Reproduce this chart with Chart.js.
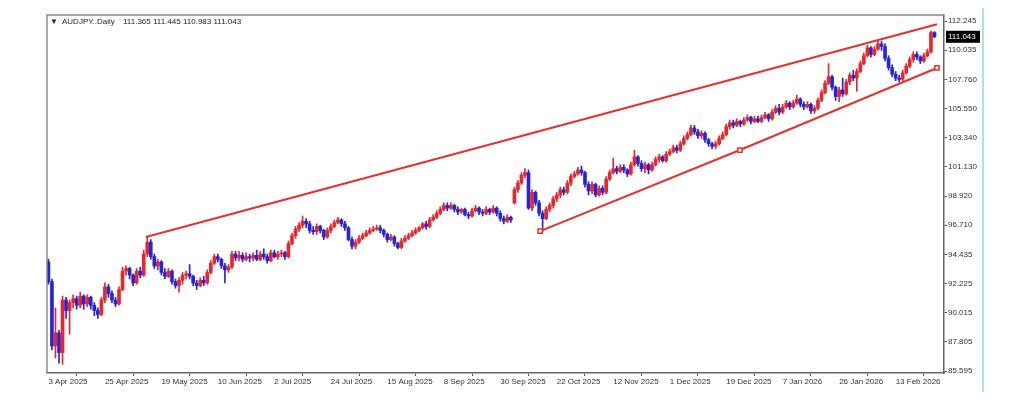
<!DOCTYPE html>
<html>
<head>
<meta charset="utf-8">
<title>AUDJPY Daily</title>
<script src="https://cdn.jsdelivr.net/npm/chart.js@4.4.1/dist/chart.umd.min.js"></script>
<style>
    html, body { margin: 0; padding: 0; background: #fff; }
    #wrap { width: 1024px; height: 402px; }
</style>
</head>
<body>
<div id="wrap"><canvas id="chart" width="1024" height="402"></canvas></div>
<script>
// Daily bars, oldest first (3 Apr 2025 ... late Feb 2026)
const opens = [
    93.9, 92.4, 87.5, 88.5, 87.0, 91.0, 90.2, 90.8, 91.1, 90.6,
    91.3, 90.7, 91.2, 90.6, 90.2, 89.9, 91.0, 92.0, 91.5, 91.0,
    90.7, 91.8, 93.2, 93.4, 92.9, 92.3, 93.2, 92.9, 94.5, 95.4,
    94.3, 93.6, 93.9, 93.1, 92.8, 93.2, 92.4, 92.1, 92.5, 92.9,
    93.0, 92.8, 92.3, 92.1, 92.5, 92.3, 93.1, 93.8, 94.3, 94.1,
    93.6, 93.3, 93.5, 94.5, 94.2, 94.4, 94.1, 94.3, 94.2, 94.4,
    94.1, 94.5, 94.3, 94.0, 94.6, 94.3, 94.5, 94.6, 94.3, 95.3,
    95.9, 96.4, 96.7, 97.0, 96.8, 96.3, 96.2, 96.6, 96.3, 95.8,
    96.3, 96.6, 96.9, 97.1, 96.8, 96.5, 95.6, 95.1, 95.4, 95.7,
    95.9, 96.1, 96.3, 96.4, 96.5, 96.3, 96.0, 95.6, 95.8, 95.3,
    95.0, 95.5, 95.7, 95.9, 96.1, 96.3, 96.5, 96.8, 96.6, 97.1,
    97.3, 97.6, 97.9, 98.2, 98.0, 98.2, 97.9, 97.7, 97.9, 97.5,
    97.4, 97.8, 98.0, 97.7, 97.6, 97.9, 97.7, 98.0, 97.6, 97.2,
    97.0, 97.3, 98.4, 99.4, 99.9, 100.5, 100.7, 98.0, 99.2, 98.4,
    97.6, 97.2, 97.9, 98.2, 98.7, 99.0, 99.4, 99.2, 99.9, 100.4,
    100.6, 100.9, 100.7, 99.8, 99.3, 99.8, 99.0, 99.5, 99.2, 100.2,
    100.7, 101.0, 100.8, 101.1, 100.9, 100.6, 101.3, 101.9, 101.4, 101.0,
    101.3, 100.9, 101.3, 101.7, 101.9, 101.6, 102.1, 102.3, 102.6, 102.4,
    102.9, 103.3, 103.6, 104.1, 103.8, 103.5, 103.7, 103.2, 102.9, 102.7,
    102.9, 103.3, 103.6, 104.2, 104.5, 104.3, 104.6, 104.4, 104.7, 104.9,
    104.6, 104.8, 104.6, 104.9, 105.1, 104.8, 105.3, 105.6, 105.3, 105.7,
    106.0, 105.7, 106.0, 106.3, 105.9, 105.7, 105.9, 105.4, 105.6, 106.2,
    106.8, 107.5, 108.0, 107.2, 106.5, 107.0, 106.7, 107.6, 108.1, 107.9,
    108.4, 109.0, 109.6, 110.2, 109.7, 110.1, 110.5, 110.3, 109.4, 108.7,
    108.2, 107.9, 107.8, 108.3, 108.8, 109.3, 109.7, 109.5, 109.2, 109.6,
    109.9, 111.365
];
const highs = [
    94.1, 92.6, 90.4, 88.7, 91.3, 91.2, 91.0, 91.4, 91.3, 91.6,
    91.4, 91.4, 91.3, 90.8, 90.4, 91.2, 92.3, 92.2, 91.7, 91.2,
    92.0, 93.5, 93.6, 93.5, 93.0, 93.4, 93.5, 94.8, 95.8, 95.6,
    94.5, 94.1, 94.0, 93.4, 93.4, 93.3, 92.6, 92.7, 93.1, 93.2,
    93.7, 92.9, 92.5, 92.7, 92.8, 93.3, 94.0, 94.5, 94.5, 94.2,
    93.8, 93.7, 94.7, 94.7, 94.7, 94.6, 94.6, 94.5, 94.6, 94.8,
    94.7, 94.9, 94.5, 94.8, 94.8, 94.7, 94.8, 94.7, 95.5, 96.1,
    96.6, 96.9, 97.4, 97.2, 97.0, 96.6, 96.8, 96.7, 96.4, 96.5,
    96.8, 97.1, 97.3, 97.2, 97.0, 96.6, 95.8, 95.6, 95.9, 96.1,
    96.3, 96.5, 96.6, 96.7, 96.7, 96.4, 96.1, 96.0, 95.9, 95.4,
    95.7, 95.9, 96.1, 96.3, 96.5, 96.6, 96.9, 97.0, 97.3, 97.5,
    97.8, 98.1, 98.4, 98.4, 98.4, 98.3, 98.1, 98.0, 98.0, 97.7,
    98.0, 98.2, 98.1, 97.9, 98.1, 98.0, 98.2, 98.1, 97.8, 97.4,
    97.5, 97.4, 99.6, 100.1, 100.7, 101.0, 100.9, 99.4, 99.3, 98.6,
    97.8, 98.1, 98.4, 98.9, 99.2, 99.6, 99.6, 100.1, 100.6, 100.8,
    101.1, 101.2, 100.8, 100.0, 100.0, 99.9, 99.7, 99.7, 100.4, 100.9,
    101.8, 101.2, 101.3, 101.3, 101.0, 101.5, 102.4, 102.0, 101.6, 101.5,
    101.4, 101.5, 101.9, 102.1, 102.0, 102.3, 102.5, 102.8, 102.8, 103.1,
    103.5, 103.8, 104.3, 104.3, 104.0, 103.9, 103.8, 103.3, 103.0, 103.1,
    103.5, 103.8, 104.4, 104.7, 104.7, 104.8, 104.7, 104.9, 105.1, 105.0,
    105.0, 105.0, 105.1, 105.3, 105.2, 105.5, 105.8, 105.9, 105.9, 106.2,
    106.1, 106.2, 106.6, 106.4, 106.1, 106.1, 106.0, 105.8, 106.4, 107.0,
    107.7, 109.0, 108.1, 107.3, 107.2, 107.9, 107.8, 108.3, 108.5, 108.6,
    109.2, 109.8, 110.4, 110.3, 110.3, 110.7, 110.7, 110.5, 109.6, 108.9,
    108.4, 108.1, 108.5, 109.0, 109.5, 109.9, 109.9, 109.6, 109.8, 110.1,
    111.5, 111.445
];
const lows = [
    92.2, 87.2, 86.6, 86.2, 86.1, 89.6, 88.4, 90.4, 90.3, 90.4,
    90.3, 90.5, 90.3, 89.8, 89.6, 89.8, 90.8, 91.2, 90.8, 90.5,
    90.6, 91.7, 92.9, 92.6, 92.1, 92.2, 92.7, 92.8, 94.3, 94.1,
    93.4, 93.3, 92.9, 92.6, 92.7, 92.2, 91.9, 91.6, 92.2, 92.6,
    92.6, 92.1, 91.8, 92.0, 92.1, 92.2, 93.0, 93.7, 93.9, 93.4,
    92.3, 93.1, 93.4, 94.0, 94.0, 93.9, 94.0, 93.9, 94.0, 94.0,
    94.0, 94.1, 93.8, 93.9, 94.2, 94.1, 94.3, 94.1, 94.2, 95.2,
    95.7, 96.2, 96.5, 96.5, 96.1, 96.0, 96.0, 96.1, 95.6, 95.7,
    96.1, 96.5, 96.8, 96.6, 96.3, 95.5, 94.9, 94.9, 95.3, 95.6,
    95.8, 96.0, 96.2, 96.3, 96.1, 95.8, 95.4, 95.5, 95.1, 94.9,
    94.9, 95.4, 95.6, 95.8, 96.0, 96.2, 96.4, 96.4, 96.5, 97.0,
    97.2, 97.5, 97.8, 97.8, 97.9, 97.7, 97.5, 97.6, 97.4, 97.2,
    97.3, 97.7, 97.5, 97.4, 97.5, 97.5, 97.6, 97.4, 97.0, 96.8,
    96.9, 96.9, 98.3, 99.2, 99.8, 100.3, 97.9, 97.8, 98.2, 97.4,
    96.2, 97.1, 97.7, 98.0, 98.5, 98.8, 99.0, 99.1, 99.7, 100.3,
    100.5, 100.5, 99.6, 99.0, 99.1, 98.85, 98.9, 99.0, 99.1, 100.1,
    100.6, 100.6, 100.7, 100.7, 100.4, 100.5, 101.2, 101.2, 100.8, 100.7,
    100.6, 100.8, 101.2, 101.5, 101.5, 101.5, 102.0, 102.2, 102.2, 102.3,
    102.8, 103.2, 103.5, 103.6, 103.3, 103.3, 103.0, 102.7, 102.5, 102.5,
    102.8, 103.2, 103.5, 104.0, 104.1, 104.2, 104.2, 104.3, 104.6, 104.4,
    104.5, 104.5, 104.5, 104.8, 104.6, 104.7, 105.2, 105.1, 105.2, 105.6,
    105.5, 105.6, 105.9, 105.7, 105.5, 105.6, 105.2, 105.2, 105.5, 106.1,
    106.7, 107.4, 107.0, 106.2, 106.1, 106.5, 106.6, 107.4, 107.7, 106.9,
    108.3, 108.9, 109.5, 109.5, 109.6, 110.0, 110.0, 109.2, 108.5, 108.0,
    107.7, 107.6, 107.7, 108.2, 108.7, 109.1, 109.3, 109.0, 109.1, 109.5,
    109.8, 110.983
];
const closes = [
    92.4, 87.5, 88.5, 87.0, 91.0, 90.2, 90.8, 91.1, 90.6, 91.3,
    90.7, 91.2, 90.6, 90.2, 89.9, 91.0, 92.0, 91.5, 91.0, 90.7,
    91.8, 93.2, 93.4, 92.9, 92.3, 93.2, 92.9, 94.5, 95.4, 94.3,
    93.6, 93.9, 93.1, 92.8, 93.2, 92.4, 92.1, 92.5, 92.9, 93.0,
    92.8, 92.3, 92.1, 92.5, 92.3, 93.1, 93.8, 94.3, 94.1, 93.6,
    93.3, 93.5, 94.5, 94.2, 94.4, 94.1, 94.3, 94.2, 94.4, 94.1,
    94.5, 94.3, 94.0, 94.6, 94.3, 94.5, 94.6, 94.3, 95.3, 95.9,
    96.4, 96.7, 97.0, 96.8, 96.3, 96.2, 96.6, 96.3, 95.8, 96.3,
    96.6, 96.9, 97.1, 96.8, 96.5, 95.6, 95.1, 95.4, 95.7, 95.9,
    96.1, 96.3, 96.4, 96.5, 96.3, 96.0, 95.6, 95.8, 95.3, 95.0,
    95.5, 95.7, 95.9, 96.1, 96.3, 96.5, 96.8, 96.6, 97.1, 97.3,
    97.6, 97.9, 98.2, 98.0, 98.2, 97.9, 97.7, 97.9, 97.5, 97.4,
    97.8, 98.0, 97.7, 97.6, 97.9, 97.7, 98.0, 97.6, 97.2, 97.0,
    97.3, 97.1, 99.4, 99.9, 100.5, 100.7, 98.0, 99.2, 98.4, 97.6,
    97.2, 97.9, 98.2, 98.7, 99.0, 99.4, 99.2, 99.9, 100.4, 100.6,
    100.9, 100.7, 99.8, 99.3, 99.8, 99.0, 99.5, 99.2, 100.2, 100.7,
    101.0, 100.8, 101.1, 100.9, 100.6, 101.3, 101.9, 101.4, 101.0, 101.3,
    100.9, 101.3, 101.7, 101.9, 101.6, 102.1, 102.3, 102.6, 102.4, 102.9,
    103.3, 103.6, 104.1, 103.8, 103.5, 103.7, 103.2, 102.9, 102.7, 102.9,
    103.3, 103.6, 104.2, 104.5, 104.3, 104.6, 104.4, 104.7, 104.9, 104.6,
    104.8, 104.6, 104.9, 105.1, 104.8, 105.3, 105.6, 105.3, 105.7, 106.0,
    105.7, 106.0, 106.3, 105.9, 105.7, 105.9, 105.4, 105.6, 106.2, 106.8,
    107.5, 108.0, 107.2, 106.5, 107.0, 106.7, 107.6, 108.1, 107.9, 108.4,
    109.0, 109.6, 110.2, 109.7, 110.1, 110.5, 110.3, 109.4, 108.7, 108.2,
    107.9, 107.8, 108.3, 108.8, 109.3, 109.7, 109.5, 109.2, 109.6, 109.9,
    111.365, 111.043
];

// one date label every 16 bars
const dateLabels = [
    '3 Apr 2025', '25 Apr 2025', '19 May 2025', '10 Jun 2025', '2 Jul 2025',
    '24 Jul 2025', '15 Aug 2025', '8 Sep 2025', '30 Sep 2025', '22 Oct 2025',
    '12 Nov 2025', '1 Dec 2025', '19 Dec 2025', '7 Jan 2026', '26 Jan 2026',
    '13 Feb 2026'
];
const labelStep = 16;

const priceTicks = [
    85.595, 87.805, 90.015, 92.225, 94.435, 96.710, 98.920,
    101.130, 103.340, 105.550, 107.760, 110.035, 112.245
];

// trend line anchors: [bar index, price]
const upperTrend = [[27.6, 95.8], [251.7, 112.0]];
const lowerTrend = [[139.3, 96.25], [195.9, 102.42], [251.7, 108.67]];

const UP = '#e8262b';
const DOWN = '#2424d8';
const LINE = '#e8302c';
const FONT = "'Liberation Sans', Arial, sans-serif";

Chart.defaults.font.family = FONT;
Chart.defaults.font.size = 8;
Chart.defaults.color = '#333';

const barColors = closes.map((c, i) => c >= opens[i] ? UP : DOWN);

const wickData = closes.map((c, i) => ({ x: i, y: [lows[i], highs[i]] }));
const bodyData = closes.map((c, i) => ({ x: i, y: [opens[i], c] }));

/**
 * Frame, symbol header, last price tag and the side rule
 */
const chartDecor = {
    id: 'chartDecor',
    afterDraw(chart) {
        const { ctx, chartArea } = chart;
        const yScale = chart.scales.y;
        const last = closes.length - 1;

        ctx.save();
        // frame
        ctx.strokeStyle = '#8a8a8a';
        ctx.lineWidth = 1.5;
        ctx.beginPath();
        ctx.moveTo(chartArea.left, chartArea.bottom);
        ctx.lineTo(chartArea.left, chartArea.top);
        ctx.lineTo(chartArea.right, chartArea.top);
        ctx.stroke();

        // header
        ctx.fillStyle = '#222';
        ctx.font = '8px ' + FONT;
        ctx.textBaseline = 'middle';
        ctx.textAlign = 'left';
        ctx.fillText('\u25BC', chartArea.left + 3, chartArea.top + 7);
        ctx.fillText('AUDJPY..Daily', chartArea.left + 15, chartArea.top + 7);
        const ohlc = [opens[last], highs[last], lows[last], closes[last]]
            .map(v => v.toFixed(3)).join(' ');
        ctx.fillText(ohlc, chartArea.left + 76, chartArea.top + 7);

        // last price tag
        const py = yScale.getPixelForValue(closes[last]);
        ctx.fillStyle = '#000';
        ctx.fillRect(chartArea.right + 2, py - 6, 34, 12);
        ctx.fillStyle = '#fff';
        ctx.fillText(closes[last].toFixed(3), chartArea.right + 4, py + 0.5);

        // light blue rule on the right
        ctx.strokeStyle = '#b5dde9';
        ctx.lineWidth = 2;
        ctx.beginPath();
        ctx.moveTo(983, 8);
        ctx.lineTo(983, 392);
        ctx.stroke();
        ctx.restore();
    }
};

new Chart(document.getElementById('chart'), {
    type: 'bar',
    data: {
        datasets: [
            {
                type: 'line',
                data: upperTrend.map(p => ({ x: p[0], y: p[1] })),
                borderColor: LINE,
                borderWidth: 2,
                pointRadius: 0,
                order: 0
            },
            {
                type: 'line',
                data: lowerTrend.map(p => ({ x: p[0], y: p[1] })),
                borderColor: LINE,
                borderWidth: 2,
                pointStyle: 'rect',
                pointRadius: 3,
                pointBackgroundColor: '#fff',
                pointBorderColor: LINE,
                pointBorderWidth: 1.5,
                order: 0
            },
            {
                data: bodyData,
                backgroundColor: barColors,
                barThickness: 3,
                minBarLength: 1,
                grouped: false,
                order: 1
            },
            {
                data: wickData,
                backgroundColor: barColors,
                barThickness: 1,
                grouped: false,
                order: 2
            }
        ]
    },
    options: {
        responsive: false,
        animation: false,
        layout: { padding: { left: 47, top: 15, right: 0, bottom: 0 } },
        plugins: {
            legend: { display: false },
            tooltip: { enabled: false }
        },
        scales: {
            x: {
                type: 'linear',
                min: -0.4,
                max: 253.7,
                offset: false,
                afterFit: s => { s.height = 29; },
                afterBuildTicks: s => {
                    s.ticks = dateLabels.map((_, k) => ({ value: k * labelStep }));
                },
                grid: { drawOnChartArea: false, drawTicks: true, tickLength: 3, color: '#555' },
                border: { color: '#666', width: 1.5 },
                ticks: {
                    autoSkip: false,
                    maxRotation: 0,
                    align: 'start',
                    padding: 1,
                    color: '#333',
                    callback: v => dateLabels[Math.round(v / labelStep)]
                }
            },
            y: {
                position: 'right',
                min: 85.443,
                max: 112.702,
                afterFit: s => { s.width = 80; },
                afterBuildTicks: s => {
                    s.ticks = priceTicks.map(v => ({ value: v }));
                },
                grid: { drawOnChartArea: false, drawTicks: true, tickLength: 3, color: '#555' },
                border: { color: '#666', width: 1.5 },
                ticks: {
                    padding: 1,
                    color: '#333',
                    callback: v => v.toFixed(3)
                }
            }
        }
    },
    plugins: [chartDecor]
});
</script>
</body>
</html>
